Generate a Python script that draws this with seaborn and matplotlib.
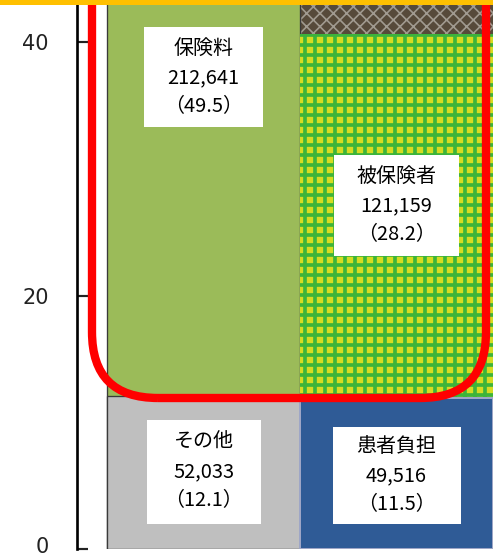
import matplotlib
matplotlib.use("Agg")
import matplotlib.pyplot as plt
import matplotlib.transforms as mtransforms
import seaborn as sns
import pandas as pd
from matplotlib.patches import Rectangle, FancyBboxPatch

# --- DATA ---
columns = ["財源", "負担"]
segments = ["その他", "保険料", "患者負担", "被保険者", "事業主"]
seg_column = ["財源", "財源", "負担", "負担", "負担"]
# segment heights as drawn on the chart (axis in %)
seg_heights = [12.1, 49.5, 11.9, 28.7, 21.3]

label_names = ["保険料", "被保険者", "その他", "患者負担"]
label_amounts = ["212,641", "121,159", "52,033", "49,516"]
label_shares = ["49.5", "28.2", "12.1", "11.5"]

y_ticks = [0, 20, 40]

# --- LAYOUT / STYLE ---
DPI = 120
W, H = 493, 556
label_pos = [(0, 37.2), (1, 27.1), (0, 6.1), (1, 5.8)]
label_box_px = [(119, 100), (125, 101), (114, 104), (128, 97)]

STYLE = {
    "その他":   dict(color="#bfbfbf", edgecolor="#3a3a3a", linewidth=0.8),
    "保険料":   dict(color="#9bbb59", edgecolor="#3a3a3a", linewidth=0.8),
    "患者負担": dict(color="#2f5b96", edgecolor="#9ea6c6", linewidth=1.2),
    "被保険者": dict(color="#d5dc22", edgecolor="#3cb43a", linewidth=0, hatch="++"),
    "事業主":   dict(color="#564a3a", edgecolor="#a09a90", linewidth=0, hatch="xxx"),
}
HATCH_LW = {"被保険者": 2.2, "事業主": 1.0}

sns.set_style("white")
plt.rcParams["font.family"] = ["Noto Sans CJK JP", "DejaVu Sans"]

fig = plt.figure(figsize=(W / DPI, H / DPI), dpi=DPI)
ax_left, ax_bottom = 77 / W, 7 / H
ax = fig.add_axes([ax_left, ax_bottom, 1 - ax_left, 1 - ax_bottom])

df = pd.DataFrame({"column": seg_column, "segment": segments, "height": seg_heights})
df["top"] = df.groupby("column")["height"].cumsum()

# stacked bars: draw cumulative tops, tallest first
for _, row in df.sort_values("top", ascending=False).iterrows():
    st = STYLE[row["segment"]]
    with plt.rc_context({"hatch.linewidth": HATCH_LW.get(row["segment"], 1.0)}):
        sns.barplot(x=[row["column"]], y=[row["top"]], order=columns, width=1.0,
                    saturation=1, errorbar=None, ax=ax, **st)

# axis range: 30 px gap before first bar, 193 px per bar
x_left = -0.5 - 30 / 193
x_right = 1.5
y_top = (549 - 0) / 12.675
ax.set_xlim(x_left, x_right)
ax.set_ylim(0, y_top)

px_x = (W * (1 - ax_left)) / (x_right - x_left)
px_y = (H * (1 - ax_bottom)) / y_top

# label boxes
for name, amt, share, (lx, ly), (bw, bh) in zip(label_names, label_amounts, label_shares,
                                              label_pos, label_box_px):
    dw, dh = bw / px_x, bh / px_y
    ax.add_patch(Rectangle((lx - dw / 2, ly - dh / 2), dw, dh, facecolor="white",
                           edgecolor="none", zorder=5))
    ax.text(lx, ly, f"{name}\n{amt}\n（{share}）", ha="center", va="center",
            fontsize=12, linespacing=1.5, color="black", zorder=6,
            family=["Noto Sans CJK JP", "DejaVu Sans"])

ax.set_xticks([])
ax.set_xlabel("")
ax.set_ylabel("")
ax.set_yticks(y_ticks)
ax.set_yticklabels([str(t) for t in y_ticks], family="DejaVu Sans")
ax.tick_params(axis="y", left=True, direction="in", length=6.6, width=1.3, pad=17,
               labelsize=12.5, colors="#222222")
for s in ["top", "right", "bottom"]:
    ax.spines[s].set_visible(False)
ax.spines["left"].set_color("black")
ax.spines["left"].set_linewidth(1.6)

# lift the "0" label a little so it stays inside the picture
zero_lbl = ax.get_yticklabels()[0]
zero_lbl.set_transform(zero_lbl.get_transform()
                       + mtransforms.ScaledTranslation(0, 4 / DPI, fig.dpi_scale_trans))

# red rounded highlight frame (inches)
frame = FancyBboxPatch((92 / DPI, 158 / DPI), (486 - 92) / DPI, 5.0,
                       boxstyle="round,pad=0,rounding_size=0.55",
                       transform=fig.dpi_scale_trans, fill=False,
                       edgecolor="#ff0000", linewidth=5, clip_on=False, zorder=10)
fig.add_artist(frame)

# orange band at the top
fig.add_artist(Rectangle((0, 1 - 5 / H), 1, 5 / H, transform=fig.transFigure,
                         facecolor="#ffc000", edgecolor="none", zorder=11))

fig.savefig("out.png", dpi=DPI)
